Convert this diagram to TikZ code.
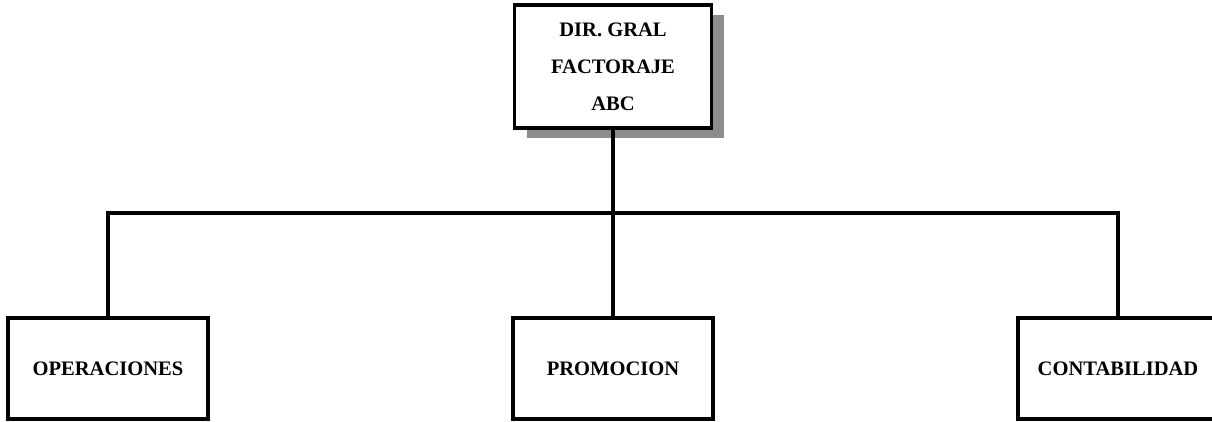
\documentclass[tikz,border=0pt]{standalone}
\usepackage{fontspec}
\setmainfont{Liberation Serif}
\usetikzlibrary{positioning,shadows}
\newdimen\hdim
\newdimen\wdim
\hdim=2.02cm
\wdim=4cm
\tikzstyle{element}=[
  draw=black,
  font={\bfseries\fontsize{11.7}{21}\selectfont},
  inner sep=0pt,
  minimum height=\hdim,
  minimum width=\wdim,
  outer sep=0pt,
  rectangle,
  text centered,
  line width=2pt,
  fill=white,
]
\tikzstyle{headelement}=[
  element,
  minimum height=2.46cm,
  minimum width=3.94cm,
  align=center,
  drop shadow={shadow xshift=.24cm, shadow yshift=-.2cm, fill=black!45, opacity=1},
]
\tikzstyle{line}=[
  draw=black,
  line width=2pt,
]
\tikzset{
  node distance=10.1cm,
}
\begin{document}
\begin{tikzpicture}
    \clip (0,0) rectangle (24.24,-8.42);
    \node (dirgral) [headelement] at (12.26,-1.33) {DIR. GRAL\\FACTORAJE\\ABC};
    \coordinate [below=1.7cm of dirgral] (bus);
    %%
    \node (promocion) [element] at (12.26,-7.37) {PROMOCION};
    \node (operaciones) [element, left of=promocion] {OPERACIONES};
    \node (contabilidad) [element, right of=promocion] {CONTABILIDAD};
    %%
    \draw [line] (dirgral) -- (promocion);
    \draw [line] (operaciones.north) |- (bus) -| (contabilidad.north);
\end{tikzpicture}
\end{document}
